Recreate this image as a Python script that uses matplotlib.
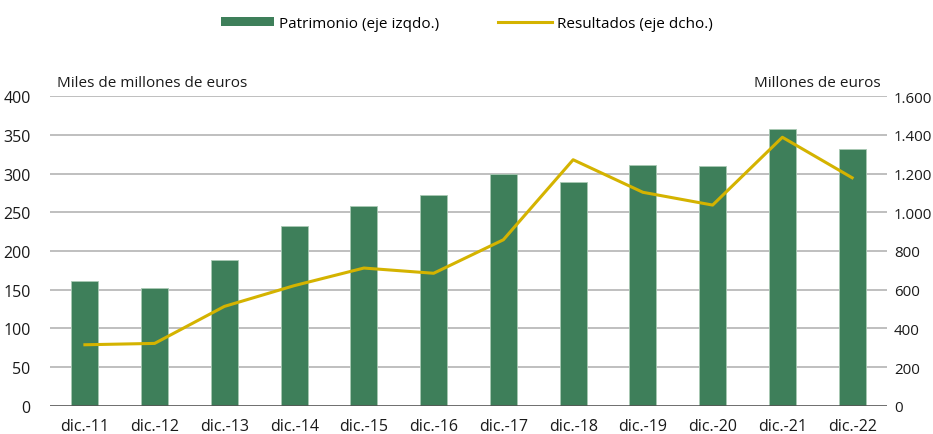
import matplotlib.pyplot as plt
from matplotlib.lines import Line2D
from matplotlib.patches import Patch

# Datos
categorias = ["dic.-11", "dic.-12", "dic.-13", "dic.-14", "dic.-15", "dic.-16",
              "dic.-17", "dic.-18", "dic.-19", "dic.-20", "dic.-21", "dic.-22"]
patrimonio = [161, 152, 189, 232, 258, 272, 299, 289, 311, 310, 357, 332]
resultados = [316, 323, 514, 621, 712, 685, 858, 1271, 1103, 1037, 1387, 1178]

ticks_izq = [0, 50, 100, 150, 200, 250, 300, 350, 400]
ticks_dcho = [0, 200, 400, 600, 800, 1000, 1200, 1400, 1600]
ticks_dcho_txt = ["0", "200", "400", "600", "800", "1.000", "1.200", "1.400", "1.600"]

VERDE = "#3e7f5a"
ORO = "#d4b300"
GRIS = "#b4b4b4"

plt.rcParams["font.family"] = ["Open Sans", "DejaVu Sans"]

fig = plt.figure(figsize=(9.33, 4.35), dpi=100)
ax = fig.add_axes([0.0536, 0.0644, 0.8971, 0.7126])
ax2 = ax.twinx()

x = list(range(len(categorias)))
ax.bar(x, patrimonio, width=0.39, color=VERDE, edgecolor="#a9c9b4",
       linewidth=0.6, zorder=3)
ax2.plot(x, resultados, color=ORO, linewidth=2.2, zorder=4)

ax.set_xlim(-0.5, 11.5)
ax.set_ylim(0, 400)
ax2.set_ylim(0, 1600)

ax.set_yticks(ticks_izq)
ax.set_yticklabels([str(t) for t in ticks_izq])
ax2.set_yticks(ticks_dcho)
ax2.set_yticklabels(ticks_dcho_txt)
ax.set_xticks(x)
ax.set_xticklabels(categorias)

for t in ticks_izq[1:]:
    ax.axhline(t, color=GRIS, linewidth=1.2, zorder=1)
ax.axhline(0, color="#555555", linewidth=1.2, zorder=5)

for a in (ax, ax2):
    for s in a.spines.values():
        s.set_visible(False)
    a.tick_params(length=0, labelsize=11.5, colors="#1a1a1a")
ax.tick_params(axis="y", pad=14)
ax2.tick_params(axis="y", pad=5, labelsize=10.8)
ax.tick_params(axis="x", pad=9)

fig.text(0.061, 0.80, "Miles de millones de euros", fontsize=11, color="#1a1a1a")
fig.text(0.944, 0.80, "Millones de euros", fontsize=11, color="#1a1a1a", ha="right")

handles = [Patch(facecolor=VERDE, edgecolor="none"),
           Line2D([0], [0], color=ORO, linewidth=2.2)]
fig.legend(handles, ["Patrimonio (eje izqdo.)", "Resultados (eje dcho.)"],
           loc="center", bbox_to_anchor=(0.5, 0.944), ncol=2, frameon=False,
           fontsize=11, handlelength=3.5, handleheight=0.6, columnspacing=3.9,
           handletextpad=0.3)

fig.savefig("out.png", dpi=100)
